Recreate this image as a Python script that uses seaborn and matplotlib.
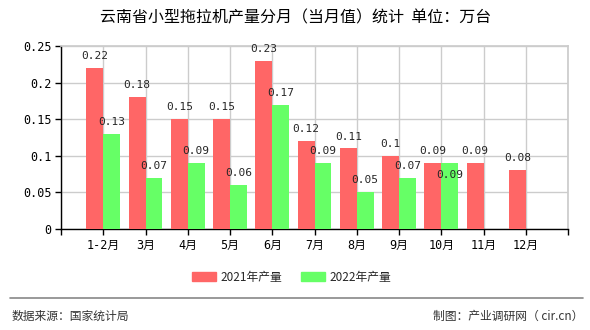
import numpy as np
import pandas as pd
import matplotlib
matplotlib.use("Agg")
import matplotlib.pyplot as plt
import seaborn as sns
from matplotlib.lines import Line2D

months = ["1-2月", "3月", "4月", "5月", "6月", "7月", "8月", "9月", "10月", "11月", "12月"]
v2021 = [0.22, 0.18, 0.15, 0.15, 0.23, 0.12, 0.11, 0.10, 0.09, 0.09, 0.08]
v2022 = [0.13, 0.07, 0.09, 0.06, 0.17, 0.09, 0.05, 0.07, 0.09, np.nan, np.nan]
series = ["2021年产量", "2022年产量"]
title = "云南省小型拖拉机产量分月（当月值）统计  单位：万台"
yticks = [0, 0.05, 0.1, 0.15, 0.2, 0.25]
ylabels = ["0", "0.05", "0.1", "0.15", "0.2", "0.25"]

sns.set_theme(style="white")
plt.rcParams["font.family"] = ["Noto Sans CJK SC", "DejaVu Sans"]

df = pd.DataFrame({
    "month": months * 2,
    "value": v2021 + v2022,
    "series": [series[0]] * len(months) + [series[1]] * len(months),
})

colors = ["#FF6666", "#66FF66"]
fig = plt.figure(figsize=(5.9, 3.3), dpi=100)
ax = fig.add_axes([61/590, 1-229/330, (568-61)/590, (229-46)/330])

sns.barplot(data=df, x="month", y="value", hue="series", order=months,
            hue_order=series, palette=colors, width=0.8, saturation=1,
            ax=ax, legend=False, zorder=3, linewidth=0, edgecolor="none")

ax.set_xlim(-1, len(months))
ax.set_ylim(0, 0.25)
ax.set_xticks(range(-1, len(months) + 1))
ax.set_xticklabels([""] + months + [""], fontsize=8.5,
                   family=["DejaVu Sans Mono", "Noto Sans CJK SC"])
ax.set_yticks(yticks)
ax.set_yticklabels(ylabels, fontsize=8.5, family=["DejaVu Sans Mono"])
ax.set_xlabel("")
ax.set_ylabel("")
ax.grid(True, color="#CCCCCC", linewidth=1, zorder=0)
ax.set_axisbelow(True)
for s in ["top", "right"]:
    ax.spines[s].set_color("#CCCCCC")
for s in ["left", "bottom"]:
    ax.spines[s].set_color("black")
    ax.spines[s].set_linewidth(1)
ax.tick_params(axis="both", which="both", direction="out", length=4,
               width=1, color="black", pad=3, labelcolor="black")
ax.tick_params(axis="x", bottom=True)
ax.tick_params(axis="y", left=True)

# value labels
for i, (a, b) in enumerate(zip(v2021, v2022)):
    ax.annotate(f"{a:g}", (i - 0.2, a), xytext=(0, 5), textcoords="offset points",
                ha="center", va="bottom", fontsize=8, family="DejaVu Sans Mono")
    if not np.isnan(b):
        off = -12 if b == a else 5
        ax.annotate(f"{b:g}", (i + 0.2, b), xytext=(0, off), textcoords="offset points",
                    ha="center", va="bottom", fontsize=8, family="DejaVu Sans Mono")

fig.text(296/590, 1-18/330, title, ha="center", va="center", fontsize=11.5, color="black")

handles = [plt.Rectangle((0, 0), 1, 1, color=c) for c in colors]
fig.legend(handles, series, loc="center", bbox_to_anchor=(292/590, 1-277/330),
           ncol=2, frameon=False, fontsize=8.5, handlelength=2.0, handleheight=0.9,
           handletextpad=0.4, columnspacing=1.6)

fig.add_artist(Line2D([10/590, 583/590], [1-298/330, 1-298/330],
                      color="#888888", linewidth=1.2))
fig.text(12/590, 1-316/330, "数据来源：国家统计局", ha="left", va="center",
         fontsize=8.5, color="#333333")
fig.text(583/590, 1-316/330, "制图：产业调研网（ cir.cn）", ha="right", va="center",
         fontsize=8.5, color="#333333")

fig.savefig("out.png", dpi=100)
